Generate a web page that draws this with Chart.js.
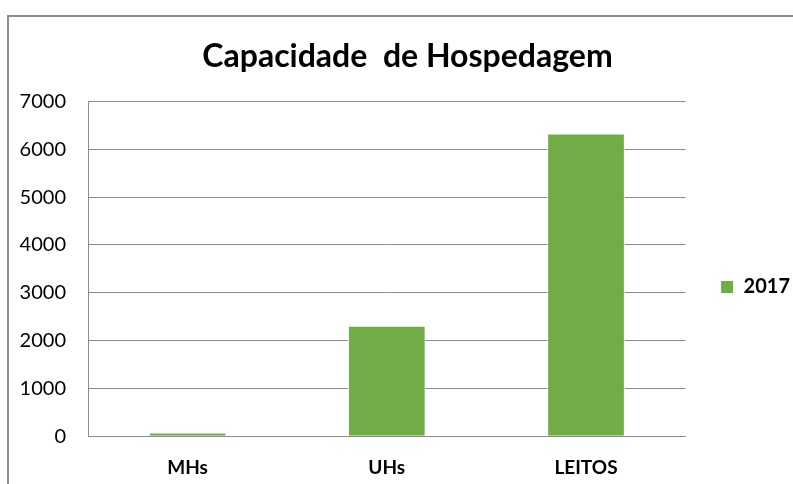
<!DOCTYPE html>
<html>
<head>
<meta charset="utf-8">
<script src="https://cdn.jsdelivr.net/npm/chart.js@4"></script>
<style>
  html, body { margin: 0; padding: 0; background: #fff; }
  #wrap { position: relative; width: 793px; height: 484px; overflow: hidden; }
  #frame { position: absolute; left: 7px; top: 15px; width: 900px; height: 600px;
           border-top: 2px solid #8c8c8c; border-left: 2px solid #8c8c8c; }
  canvas { position: absolute; left: 0; top: 0; }
</style>
</head>
<body>
<div id="wrap">
  <div id="frame"></div>
  <!-- canvas a bit larger than the window; the overflow is cut off like the original's frame -->
  <canvas id="chart" width="800" height="505"></canvas>
</div>
<script>
// Capacidade de hospedagem
const categories = ['MHs', 'UHs', 'LEITOS'];
const values2017 = [75, 2310, 6330];
const seriesLabel = '2017';
const yTicks = [0, 1000, 2000, 3000, 4000, 5000, 6000, 7000];

const ctx = document.getElementById('chart').getContext('2d');
new Chart(ctx, {
    type: 'bar',
    data: {
        labels: categories,
        datasets: [{
            label: seriesLabel,
            data: values2017,
            backgroundColor: '#70ad47',
            borderColor: '#ffffff',
            borderWidth: 1,
            categoryPercentage: 1,
            barPercentage: 0.39
        }]
    },
    options: {
        responsive: false,
        animation: false,
        layout: { padding: { top: 33, left: 15, right: 0, bottom: 6 } },
        plugins: {
            title: {
                display: true,
                text: 'Capacidade  de Hospedagem',
                color: '#000',
                font: { family: 'Lato', size: 32, weight: 'bold' },
                padding: { top: 4, bottom: 26 }
            },
            legend: {
                position: 'right',
                title: { display: true, text: '', font: { size: 10 }, padding: { top: 30, bottom: 0 } },
                labels: {
                    color: '#000',
                    font: { family: 'Lato', size: 20, weight: 'bold' },
                    boxWidth: 13,
                    boxHeight: 13,
                    padding: 35
                }
            },
            tooltip: { enabled: false }
        },
        scales: {
            x: {
                grid: { display: false, drawTicks: false },
                border: { color: '#8c8c8c', width: 1 },
                ticks: {
                    color: '#000',
                    font: { family: 'Lato', size: 19, weight: 'bold' },
                    padding: 20
                }
            },
            y: {
                min: 0,
                max: 7000,
                afterBuildTicks: s => { s.ticks = yTicks.map(v => ({ value: v })); },
                afterFit: s => { s.width = 73; },
                grid: { color: '#8c8c8c', drawTicks: false },
                border: { color: '#8c8c8c', width: 1 },
                ticks: {
                    color: '#000',
                    font: { family: 'Lato', size: 20 },
                    padding: 22,
                    callback: v => String(v)
                }
            }
        }
    }
});
</script>
</body>
</html>
